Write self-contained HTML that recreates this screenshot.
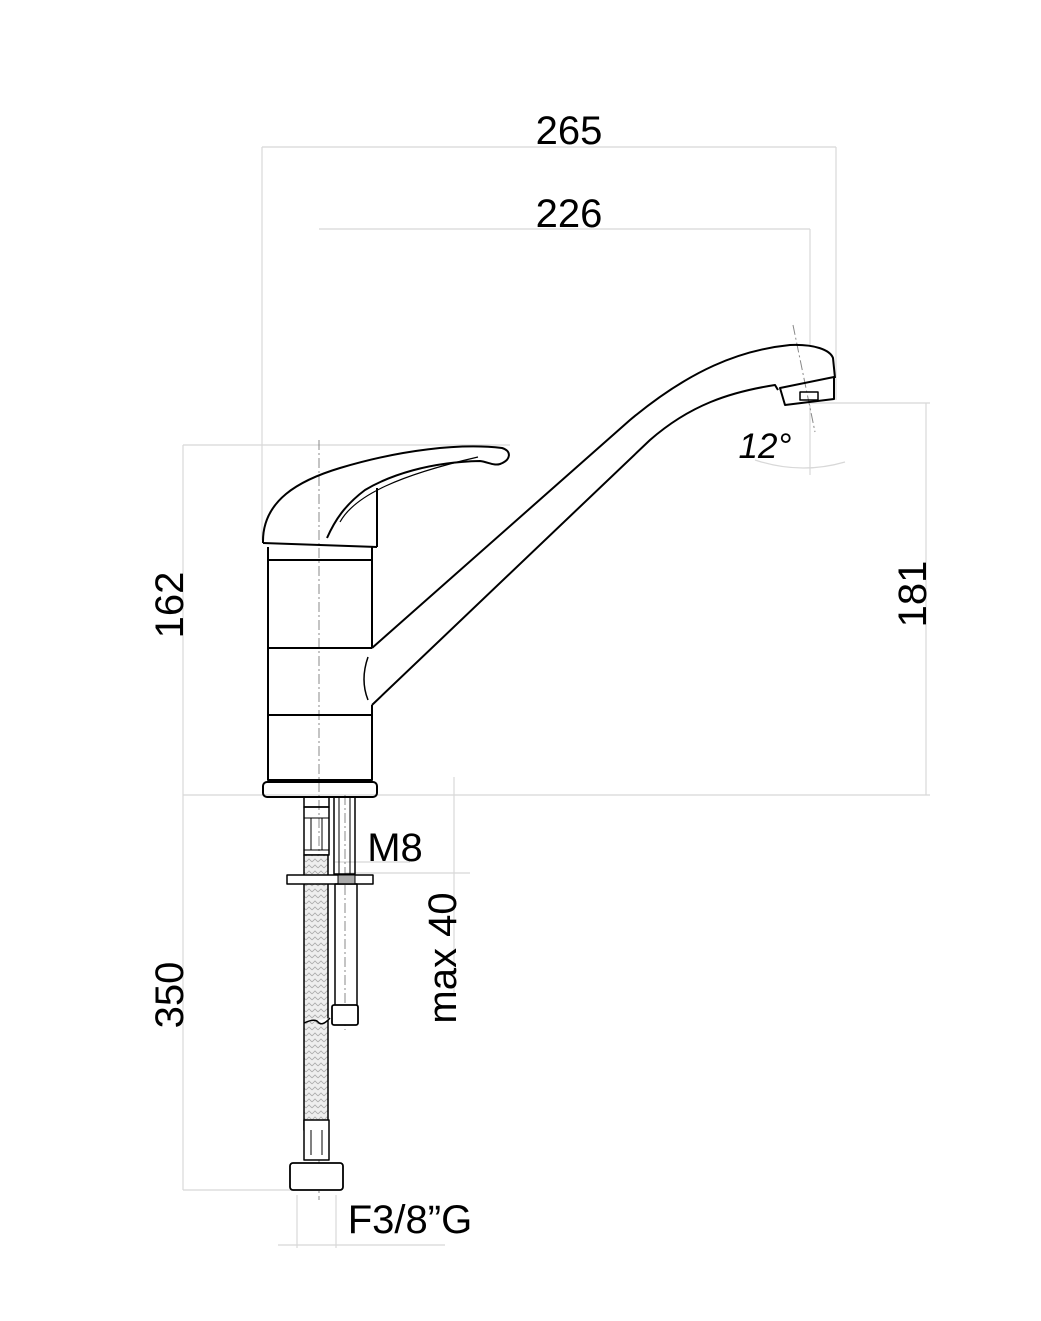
<!DOCTYPE html>
<html><head><meta charset="utf-8"><style>
html,body{margin:0;padding:0;background:#fff;}
svg{display:block;}
text{font-family:"Liberation Sans",sans-serif;fill:#000;}
</style></head><body>
<svg width="1041" height="1321" viewBox="0 0 1041 1321" xmlns="http://www.w3.org/2000/svg">
<defs>
<pattern id="braid" width="6" height="6" patternUnits="userSpaceOnUse">
<rect width="6" height="6" fill="#eee"/>
<path d="M0 4 L3 1 L6 4" stroke="#aaa" stroke-width="0.8" fill="none"/>
</pattern>
</defs>
<g stroke="#d8d8d8" stroke-width="1.2" fill="none">
<line x1="262" y1="147" x2="836" y2="147"/>
<line x1="262" y1="147" x2="262" y2="540"/>
<line x1="836" y1="147" x2="836" y2="400"/>
<line x1="319" y1="229" x2="810" y2="229"/>
<line x1="810" y1="229" x2="810" y2="345"/>
<line x1="183" y1="445" x2="510" y2="445"/>
<line x1="183" y1="445" x2="183" y2="1190"/>
<line x1="183" y1="795" x2="930" y2="795"/>
<line x1="183" y1="1190" x2="295" y2="1190"/>
<line x1="810" y1="403" x2="930" y2="403"/>
<line x1="926" y1="403" x2="926" y2="795"/>
<line x1="454" y1="777" x2="454" y2="995"/>
<line x1="345" y1="873" x2="470" y2="873"/>
<line x1="335" y1="862" x2="410" y2="862"/>
<line x1="297" y1="1195" x2="297" y2="1248"/>
<line x1="336" y1="1195" x2="336" y2="1248"/>
<line x1="278" y1="1245" x2="445" y2="1245"/>
<path d="M755 460 Q800 475 845 462"/>
<line x1="810" y1="405" x2="810" y2="475"/>
</g>
<g stroke="#888" stroke-width="1" stroke-dasharray="10,3,2,3" fill="none">
<line x1="319" y1="440" x2="319" y2="1200"/>
<line x1="345" y1="795" x2="345" y2="1030"/>
<line x1="793" y1="325" x2="815" y2="432"/>
</g>
<g stroke="#000" stroke-width="2" fill="none" stroke-linejoin="round">
<path d="M263 543 C262 500 300 480 340 468 C400 450 460 443 502 448 C512 451 511 460 500 464 C494 466 488 462 480 461 C430 462 390 475 365 490 C345 505 335 520 327 538"/>
<path d="M340 522 C355 495 400 475 478 457" stroke-width="1.2"/>
<line x1="377" y1="488" x2="377" y2="547"/>
<path d="M263 543 L377 547"/>
<path d="M268 547 L268 780 L372 780 L372 705"/>
<line x1="372" y1="547" x2="372" y2="648"/>
<line x1="268" y1="560" x2="372" y2="560"/>
<line x1="268" y1="648" x2="372" y2="648"/>
<line x1="268" y1="715" x2="372" y2="715"/>
<path d="M368 657 Q360 680 368 700" stroke-width="1.5"/>
<rect x="263" y="782" width="114" height="15" rx="4"/>
<path d="M372 648 L630 420 C690 370 740 350 790 345 C815 344 830 350 833 358 L835 378"/>
<path d="M372 705 L650 440 C690 405 730 392 775 385 L778 390"/>
<path d="M780 388 L834 377 L834 399 L785 405 Z"/>
<rect x="800" y="392" width="18" height="8" stroke-width="1.5"/>
<rect x="304" y="797" width="25" height="10" stroke-width="1.5"/>
<rect x="304" y="807" width="25" height="48" stroke-width="1.5"/>
<line x1="311" y1="818" x2="311" y2="850" stroke-width="1"/>
<line x1="322" y1="818" x2="322" y2="850" stroke-width="1"/>
<line x1="304" y1="818" x2="329" y2="818" stroke-width="1"/>
<line x1="304" y1="850" x2="329" y2="850" stroke-width="1"/>
<rect x="304" y="855" width="24" height="275" fill="url(#braid)" stroke-width="1.5"/>
<path d="M304 1023 Q315 1018 318 1022 Q322 1027 330 1018" stroke-width="1.5" fill="#fff"/>
<rect x="304" y="1120" width="25" height="40" stroke-width="1.5" fill="#fff"/>
<line x1="311" y1="1130" x2="311" y2="1155" stroke-width="1"/>
<line x1="322" y1="1130" x2="322" y2="1155" stroke-width="1"/>
<rect x="290" y="1163" width="53" height="27" rx="3" stroke-width="1.8" fill="#fff"/>
<rect x="334" y="797" width="21" height="77" stroke-width="1.5"/>
<line x1="339" y1="797" x2="339" y2="874" stroke-width="1"/>
<line x1="350" y1="797" x2="350" y2="874" stroke-width="1"/>
<rect x="287" y="875" width="86" height="9" stroke-width="1.5" fill="#fff"/>
<rect x="338" y="875" width="17" height="9" fill="#aaa" stroke-width="1"/>
<rect x="335" y="884" width="22" height="122" stroke-width="1.5"/>
<rect x="332" y="1005" width="26" height="20" rx="2" stroke-width="1.8" fill="#fff"/>
</g>
<text x="569" y="144" font-size="40" text-anchor="middle">265</text>
<text x="569" y="227" font-size="40" text-anchor="middle">226</text>
<text x="765" y="458" font-size="35" font-style="italic" text-anchor="middle">12°</text>
<text x="395" y="861" font-size="40" text-anchor="middle">M8</text>
<text x="410" y="1233" font-size="40" text-anchor="middle">F3/8”G</text>
<text transform="translate(183,605) rotate(-90)" font-size="40" text-anchor="middle">162</text>
<text transform="translate(183,995) rotate(-90)" font-size="40" text-anchor="middle">350</text>
<text transform="translate(926,594) rotate(-90)" font-size="40" text-anchor="middle">181</text>
<text transform="translate(456,958) rotate(-90)" font-size="40" text-anchor="middle">max 40</text>
</svg>
</body></html>
